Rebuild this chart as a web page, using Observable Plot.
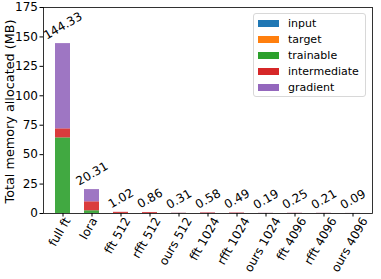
<!DOCTYPE html>
<html><head><meta charset="utf-8">
<script src="https://cdn.jsdelivr.net/npm/d3@7"></script>
<script src="https://cdn.jsdelivr.net/npm/@observablehq/plot@0.6"></script>
<style>
body{margin:0;background:#fff;font-family:"DejaVu Sans",sans-serif;}
#wrap{position:relative;width:381px;height:279px;}
#legend{position:absolute;left:253px;top:13px;width:113px;height:84px;border:1px solid #d8d8d8;border-radius:3px;background:rgba(255,255,255,0.8);box-sizing:border-box;font-size:11px;color:#000;}
.row{position:absolute;left:4px;height:12px;display:flex;align-items:center;}
.sw{width:21px;height:7px;margin-right:9px;}
</style></head>
<body><div id="wrap"><div id="legend"></div></div>
<script>
const categories = ["full ft","lora","fft 512","rfft 512","ours 512","fft 1024","rfft 1024","ours 1024","fft 4096","rfft 4096","ours 4096"];
const series = ["input","target","trainable","intermediate","gradient"];
const colors = ["#1f77b4","#ff7f0e","#2ca02c","#d62728","#9467bd"];
const input =        [0.01,0.01,0.01,0.01,0.01,0.005,0.005,0.005,0.005,0.005,0.005];
const target =       [0.01,0.01,0.01,0.01,0.01,0.005,0.005,0.005,0.005,0.005,0.005];
const trainable =    [64.2,2.3,0.02,0.02,0.02,0.01,0.01,0.01,0.01,0.01,0.01];
const intermediate = [7.7,7.6,0.92,0.77,0.13,0.45,0.37,0.07,0.12,0.09,0.03];
const gradient =     [72.41,10.39,0.06,0.05,0.14,0.11,0.10,0.10,0.11,0.10,0.04];
const totals = ["144.33","20.31","1.02","0.86","0.31","0.58","0.49","0.19","0.25","0.21","0.09"];
const yTicks = [0,25,50,75,100,125,150,175];

const FS = 12;
const ctx = document.createElement("canvas").getContext("2d");
ctx.font = `${FS}px "DejaVu Sans"`;
const tw = s => ctx.measureText(s).width;
const rad = Math.PI/180;

const seriesVals = [input,target,trainable,intermediate,gradient];
const rows = [];
categories.forEach((c,i)=>series.forEach((s,j)=>rows.push({cat:c,series:s,value:seriesVals[j][i]})));

// value labels: rotated 30°, bottom of rotated box just above bar top
const valueMarks = categories.map((c,i)=>{
  const L = tw(totals[i]);
  const h = L*Math.sin(30*rad) + FS*Math.cos(30*rad);
  return Plot.text([{cat:c,total:+totals[i],text:totals[i]}],{
    x:"cat", y:"total", text:"text", rotate:-30, dy:-(2+h/2), fontSize:FS, fill:"#000", textAnchor:"middle"});
});
// x tick labels: rotated 60°, centred under ticks
const xLabelMarks = categories.map(c=>{
  const L = tw(c);
  const h = L*Math.sin(60*rad) + FS*Math.cos(60*rad);
  return Plot.text([c],{x:d=>d, text:d=>d, frameAnchor:"bottom", rotate:-60, dy:4+h/2, fontSize:FS, fill:"#000", textAnchor:"middle"});
});

const chart = Plot.plot({
  width:381, height:279,
  marginLeft:43, marginTop:7, marginRight:9, marginBottom:66,
  style:{fontFamily:"DejaVu Sans, sans-serif", fontSize:FS+"px", color:"#000", background:"#fff", overflow:"visible"},
  x:{domain:categories, paddingInner:0.5, paddingOuter:0.25, label:null},
  y:{domain:[0,175], label:null},
  color:{domain:series, range:colors},
  marks:[
    Plot.barY(rows,{x:"cat", y:"value", fill:"series", order:series, fillOpacity:0.9}),
    Plot.frame({stroke:"#000", strokeWidth:0.8}),
    Plot.axisY({ticks:yTicks, tickSize:3.5, tickPadding:2, fontSize:FS, label:null}),
    Plot.axisX({tickSize:3.5, text:null, label:null}),
    ...xLabelMarks,
    Plot.text(["Total memory allocated (MB)"],{frameAnchor:"left", dx:-34, dy:1, rotate:-90, fontSize:12.8, fill:"#000", textAnchor:"middle"}),
    ...valueMarks
  ]
});
document.getElementById("wrap").prepend(chart);
const lg = document.getElementById("legend");
series.forEach((s,i)=>{
  const r=document.createElement("div");r.className="row";r.style.top=(3+i*16)+"px";
  r.innerHTML=`<span class="sw" style="background:${colors[i]}"></span><span>${s}</span>`;
  lg.appendChild(r);
});
</script></body></html>
